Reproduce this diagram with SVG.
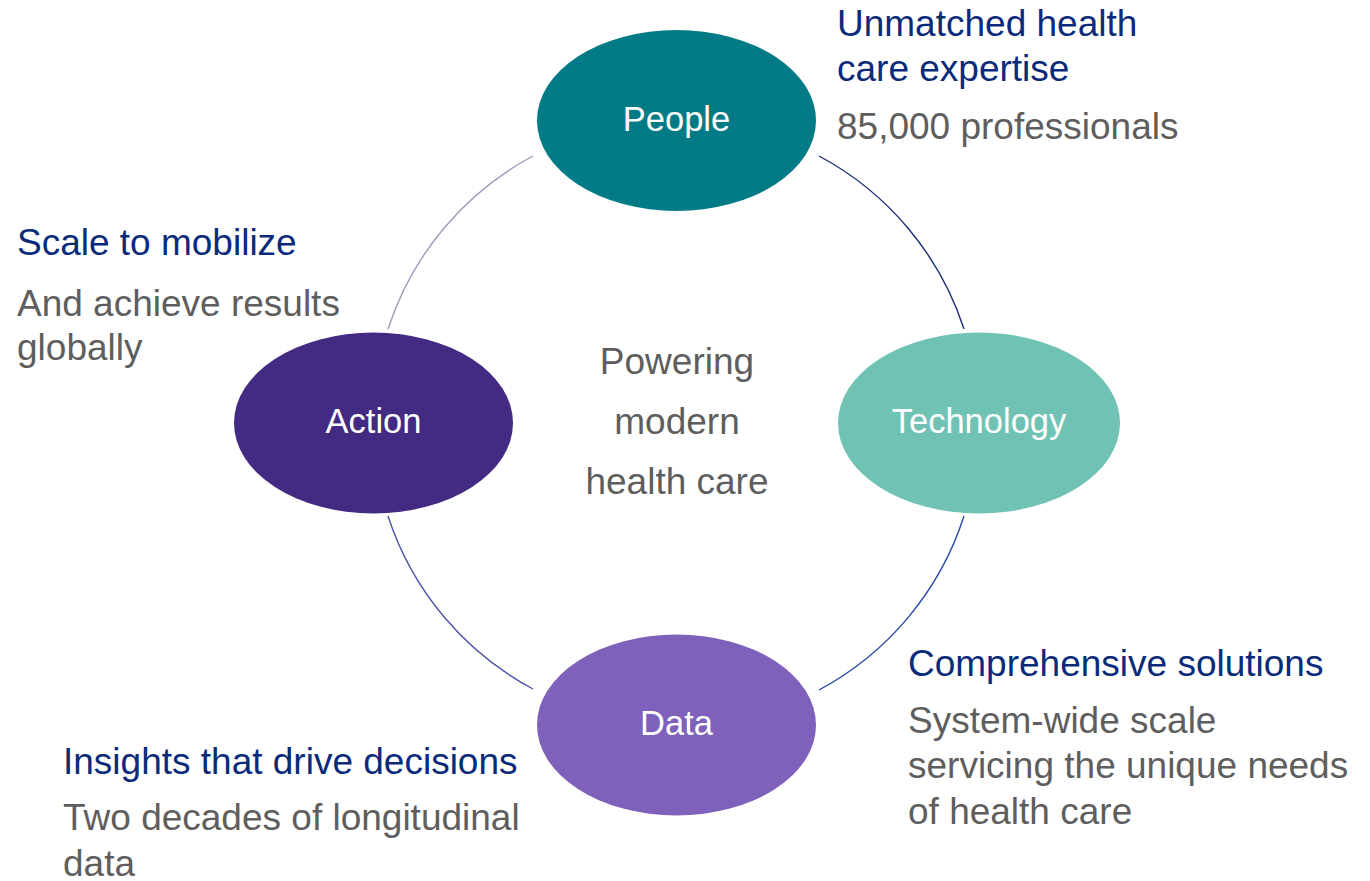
<svg xmlns="http://www.w3.org/2000/svg" width="1370" height="881" viewBox="0 0 1370 881">
<style>
text{font-family:"Liberation Sans",Arial,sans-serif;}
.lbl{font-size:34.5px;fill:#ffffff;text-anchor:middle;}
.head{font-size:37px;fill:#0A2A7A;}
.body{font-size:37px;fill:#5E5E5E;}
.ctr{font-size:37px;fill:#5E5E5E;text-anchor:middle;}
.arc{fill:none;stroke-width:1.4;}
</style>
<rect width="1370" height="881" fill="#ffffff"/>
<g id="connectors">
<path class="arc" stroke="#9C9CBC" d="M533,156 A302,302 0 0 0 388,329"/>
<path class="arc" stroke="#1A2F78" d="M819,156 A302,302 0 0 1 964,329"/>
<path class="arc" stroke="#2C48A6" d="M964,516 A302,302 0 0 1 819,690"/>
<path class="arc" stroke="#4C52A6" d="M533,689 A302,302 0 0 1 388,516"/>
</g>
<g id="node-people">
<ellipse cx="676.5" cy="120.5" rx="139.5" ry="90.5" fill="#027B86"/>
<text class="lbl" x="676.5" y="131">People</text>
</g>
<g id="node-action">
<ellipse cx="373.5" cy="423" rx="139.5" ry="90.5" fill="#432A82"/>
<text class="lbl" x="373.5" y="433">Action</text>
</g>
<g id="node-technology">
<ellipse cx="979" cy="423" rx="141" ry="90.5" fill="#6FC2B4"/>
<text class="lbl" x="979" y="433">Technology</text>
</g>
<g id="node-data">
<ellipse cx="676.5" cy="725" rx="139.5" ry="90.5" fill="#7F60BA"/>
<text class="lbl" x="676.5" y="735">Data</text>
</g>
<g id="center-text">
<text class="ctr" x="677" y="374">Powering</text>
<text class="ctr" x="677" y="434">modern</text>
<text class="ctr" x="677" y="494">health care</text>
</g>
<g id="text-people">
<text class="head" x="837" y="36">Unmatched health</text>
<text class="head" x="837" y="81">care expertise</text>
<text class="body" x="837" y="139">85,000 professionals</text>
</g>
<g id="text-action">
<text class="head" x="17" y="255">Scale to mobilize</text>
<text class="body" x="17" y="316">And achieve results</text>
<text class="body" x="17" y="360">globally</text>
</g>
<g id="text-technology">
<text class="head" x="908" y="676">Comprehensive solutions</text>
<text class="body" x="908" y="733">System-wide scale</text>
<text class="body" x="908" y="778">servicing the unique needs</text>
<text class="body" x="908" y="824">of health care</text>
</g>
<g id="text-data">
<text class="head" x="63" y="774">Insights that drive decisions</text>
<text class="body" x="63" y="830">Two decades of longitudinal</text>
<text class="body" x="63" y="876">data</text>
</g>
</svg>
